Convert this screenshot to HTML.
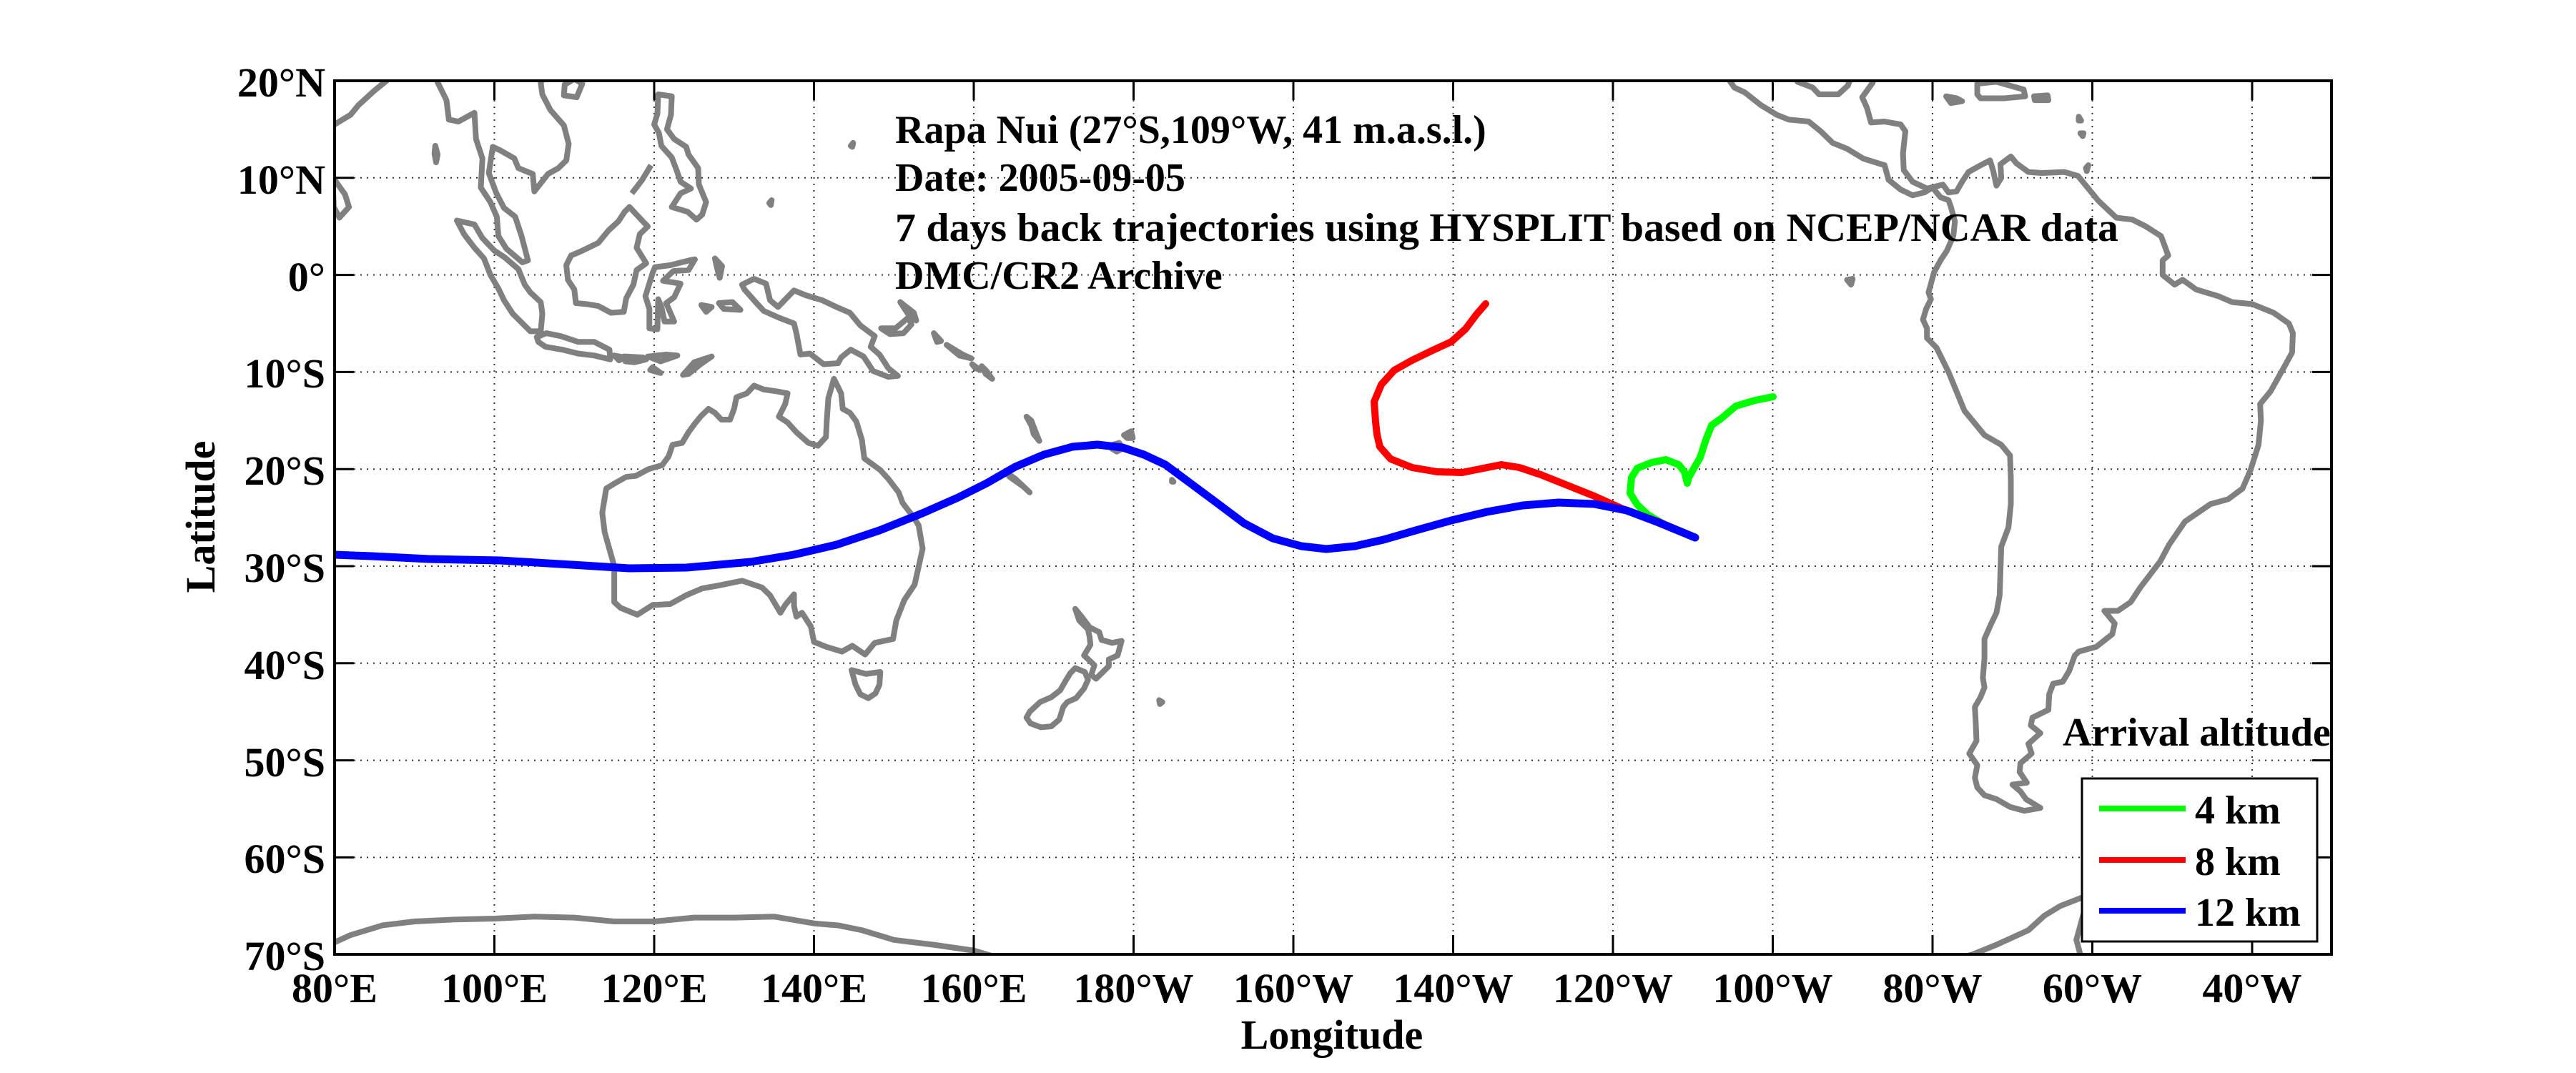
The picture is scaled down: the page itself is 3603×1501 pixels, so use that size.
<!DOCTYPE html>
<html><head><meta charset="utf-8"><style>
html,body{margin:0;padding:0;background:#fff;}
svg{display:block;}
text{font-family:"Liberation Serif",serif;font-weight:bold;fill:#000;}
</style></head><body>
<svg width="3603" height="1501" viewBox="0 0 3603 1501" xmlns="http://www.w3.org/2000/svg">
<defs><clipPath id="ax"><rect x="468" y="113" width="2793" height="1222"/></clipPath></defs>
<rect width="3603" height="1501" fill="#fff"/>
<!-- grid -->
<g stroke="#000" stroke-width="2" stroke-dasharray="2,7" opacity="0.8">
<line x1="691.5" y1="113" x2="691.5" y2="1335"/><line x1="915" y1="113" x2="915" y2="1335"/>
<line x1="1138.5" y1="113" x2="1138.5" y2="1335"/><line x1="1362" y1="113" x2="1362" y2="1335"/>
<line x1="1585.5" y1="113" x2="1585.5" y2="1335"/><line x1="1809" y1="113" x2="1809" y2="1335"/>
<line x1="2032.5" y1="113" x2="2032.5" y2="1335"/><line x1="2256" y1="113" x2="2256" y2="1335"/>
<line x1="2479.5" y1="113" x2="2479.5" y2="1335"/><line x1="2703" y1="113" x2="2703" y2="1335"/>
<line x1="2926.5" y1="113" x2="2926.5" y2="1335"/><line x1="3150" y1="113" x2="3150" y2="1335"/>
<line x1="468" y1="248.8" x2="3261" y2="248.8"/><line x1="468" y1="384.6" x2="3261" y2="384.6"/>
<line x1="468" y1="520.4" x2="3261" y2="520.4"/><line x1="468" y1="656.2" x2="3261" y2="656.2"/>
<line x1="468" y1="792" x2="3261" y2="792"/><line x1="468" y1="927.8" x2="3261" y2="927.8"/>
<line x1="468" y1="1063.6" x2="3261" y2="1063.6"/><line x1="468" y1="1199.4" x2="3261" y2="1199.4"/>
</g>
<!-- coastlines in lon/lat -->
<g clip-path="url(#ax)">
<g transform="matrix(11.175 0 0 -13.58 -426 384.6)" fill="none" stroke="#808080" stroke-width="8" vector-effect="non-scaling-stroke" stroke-linejoin="round">
<g vector-effect="non-scaling-stroke">
<polyline vector-effect="non-scaling-stroke" points="87,21 86.5,20 85,19 83,17.5 82,16.5 80,15.5 79.5,15"/>
<polygon vector-effect="non-scaling-stroke" points="80,9.8 81.3,8.3 81.8,7 80.6,5.9 79.9,7 79.8,9"/>
<polyline vector-effect="non-scaling-stroke" points="92.3,21 92.8,20 94,18 94.3,16 95.5,15.8 97.5,16.7 97.7,14 98.5,12 98.3,9 99.5,7.5 100.3,6 100.5,4 101.5,2.7 103.5,1.3 104.2,1.5 103.4,4 102.6,6 101.2,6.9 100.2,8.5 99.3,10.5 99.8,13.2 100.8,12.8 102.5,12 103,11 104.8,10.4 105,8.6 106.7,10.4 108,11 109,11.8 109.3,13.5 108.7,15.4 107,17 106,18.6 105.8,19.8 106.6,21"/>
<polygon vector-effect="non-scaling-stroke" points="108.7,18.5 110.3,18.3 111,19.7 110,20.2 108.8,19.6"/>
<polygon vector-effect="non-scaling-stroke" points="120.5,18.6 122.2,18.4 122.1,16.5 121.6,15 122.5,14 124,13.2 124.3,12.4 125.5,11 125.6,9.3 126.5,7.5 126,6.2 125.3,5.7 124.2,6.5 122.2,7 123.3,8.4 124.6,8.9 123.3,9.6 122.8,10.8 122.2,12.1 120.9,13.3 120.6,14.6 120,15.5 120.4,16.6"/>
<polyline vector-effect="non-scaling-stroke" points="117.2,8.4 118.5,9.8 119.6,11.3"/>
<polygon vector-effect="non-scaling-stroke" points="116.9,7 118.6,5.5 119.2,5 118.2,4.2 117.8,2.8 119,1.2 117.8,0.5 117.4,-1 116.5,-2.4 116.2,-3.8 114.6,-3.9 113,-3.2 111.5,-3 110.2,-2.9 110,-1.5 109.2,-0.5 109,1 109.6,2 111,2.5 113,3.3 114.3,4.6 115.5,5.5 116.3,6.5"/>
<polygon vector-effect="non-scaling-stroke" points="95.3,5.6 97.5,5.2 98.5,3.8 100,2.5 101.3,1.8 103,0.6 103.8,-1 104.5,-1.8 105.8,-2.8 106,-4 105.8,-5.8 104.5,-5.8 102.3,-4 101.2,-2.6 100.5,-1.4 99.5,0 98.7,1.7 97.5,2.8 96.2,4.2"/>
<polygon vector-effect="non-scaling-stroke" points="105.3,-6.4 106.5,-6 108.3,-6.3 110.5,-6.9 112.5,-6.9 114.4,-7.7 114.5,-8.7 112.5,-8.3 110.5,-8.1 108.5,-7.7 106.4,-7.4 105.5,-6.9"/>
<polygon vector-effect="non-scaling-stroke" points="115,-8.3 116.3,-8.5 115.6,-8.8"/>
<polygon vector-effect="non-scaling-stroke" points="116.2,-8.4 118.6,-8.5 119,-8.7 117.5,-9 116.4,-8.9"/>
<polygon vector-effect="non-scaling-stroke" points="119.2,-8.4 121.5,-8.2 122.9,-8.3 120.8,-8.9"/>
<polygon vector-effect="non-scaling-stroke" points="119.8,-9.5 120.8,-10.1 119.5,-9.8"/>
<polygon vector-effect="non-scaling-stroke" points="123.6,-10.3 125,-9 127.2,-8.4 125.8,-9.2 124.3,-10.2"/>
<polygon vector-effect="non-scaling-stroke" points="120.1,0.8 122,1 124.4,1.5 125.1,1.6 124.3,0.5 122.4,0.4 121.1,-0.6 123.3,-0.9 122.5,-2.3 121.5,-2.9 122.5,-4.8 121.3,-4.8 120.9,-3.3 120.5,-2.5 120.4,-5.6 119.4,-5.5 119.4,-3.5 118.9,-2.2 119.5,-0.6 119.8,0.2"/>
<polygon vector-effect="non-scaling-stroke" points="127.6,1.7 128.5,0.9 128.2,-0.3 127.9,0.6"/>
<polygon vector-effect="non-scaling-stroke" points="128.1,-2.9 129.8,-2.8 130.8,-3.6 128.7,-3.5"/>
<polygon vector-effect="non-scaling-stroke" points="125.9,-3.1 127.2,-3.3 126.5,-3.8"/>
<polygon vector-effect="non-scaling-stroke" points="131,-1 132.5,-0.4 134,-0.9 134.5,-2.6 135.5,-3.3 137.5,-1.6 139,-2.1 141,-2.6 142.8,-3.3 144.5,-3.9 145.8,-5.2 147.6,-6.3 147.1,-7.4 148.2,-8.2 149.3,-9.6 150.5,-10.4 149.3,-10.5 147.4,-9.9 146.2,-8.4 144.6,-7.7 143.4,-8.5 143,-9.1 141.2,-9.2 139.5,-8.1 138.3,-8.2 137.8,-6 137.5,-5 135.6,-4.4 133.7,-3.7 132.7,-2.8 131.3,-1.5"/>
<polygon vector-effect="non-scaling-stroke" points="148.4,-5.5 150.2,-5.5 151.8,-4.4 152.2,-5.1 151.2,-6 149.5,-6.1"/>
<polygon vector-effect="non-scaling-stroke" points="150.8,-2.8 152.5,-3.9 152.8,-4.7 152,-4.3"/>
<polygon vector-effect="non-scaling-stroke" points="155,-6 155.9,-6.8 155.4,-6.9"/>
<polygon vector-effect="non-scaling-stroke" points="156.6,-7.2 158.2,-8.3 159.7,-8.6 158.6,-8.2"/>
<polygon vector-effect="non-scaling-stroke" points="159.8,-9.2 160.8,-9.8 160.2,-9.6"/>
<polygon vector-effect="non-scaling-stroke" points="161,-9.4 161.5,-10.2 162.3,-10.7 161.6,-9.9"/>
<polygon vector-effect="non-scaling-stroke" points="144.6,13.3 144.9,13.6 144.8,13.2"/>
<polygon vector-effect="non-scaling-stroke" points="134.4,7.4 134.7,7.7 134.6,7.2"/>
<polygon vector-effect="non-scaling-stroke" points="92.6,13.3 92.9,12.4 92.7,11.6 92.5,12.5"/>
<!-- Australia -->
<polygon vector-effect="non-scaling-stroke" points="114,-22 113.5,-24.5 113.8,-26.5 115,-30 115,-33.7 115.8,-34.3 117.9,-35 119.8,-34 122,-33.9 124,-33 126,-32.3 128,-32 131,-31.5 133.5,-32.2 134.5,-33 135.8,-34.8 136.4,-34 137.5,-32.9 137.5,-34.1 137.8,-35.2 138.5,-34.8 139.6,-36.2 140,-37.8 141.5,-38.3 143.5,-38.8 144.8,-38.2 145.5,-38.6 146.4,-39.1 147.6,-37.9 149.9,-37.5 150.3,-35.6 151.3,-33.5 152.6,-31.9 153.6,-28.2 153.1,-25.8 152.5,-25 151.1,-23.5 150.6,-22.4 149.3,-21 148.3,-20.1 146.3,-18.9 146,-17 145.3,-15.1 144.5,-14.2 143.6,-13.8 143.4,-12.2 142.5,-10.7 141.8,-12.7 141.6,-15 141.5,-16.7 140.5,-17.6 139.3,-17.3 137.8,-16.2 136.7,-15.2 135.6,-14.6 136.4,-13.3 136.7,-12.2 135.4,-12 133.7,-11.8 132.5,-11.4 131.6,-12.2 130.3,-12.6 130,-13.8 129.5,-14.9 128.4,-14.9 127.6,-14.2 126.8,-13.8 125.9,-14.5 125.1,-15.3 124.3,-16.2 123.5,-17.3 122.3,-17.5 121.8,-18.7 121,-19.6 119.3,-20 117.7,-20.7 116.5,-20.8 115,-21.5"/>
<polygon vector-effect="non-scaling-stroke" points="144.7,-40.7 146.5,-41.1 148.3,-40.9 148.2,-42.2 147.7,-43.1 146.8,-43.6 145.8,-43.2 145.2,-42.2"/>
<polygon vector-effect="non-scaling-stroke" points="172.7,-34.4 173.5,-35.2 174.5,-36.3 175.7,-36.8 176,-37.6 177.3,-37.9 178.5,-37.7 178,-39.2 176.9,-39.6 176.9,-40.3 175.3,-41.6 174.7,-41.2 175.1,-40.2 174.2,-39.5 173.8,-39.2 174.6,-38.1 174.5,-37.3 174.3,-36.5 173.2,-35.6"/>
<polygon vector-effect="non-scaling-stroke" points="172.7,-40.5 173.9,-40.9 174.3,-41.7 173.8,-42.6 172.8,-43.6 171.7,-44 171.2,-44.5 170.7,-45.8 169.7,-46.5 168.4,-46.6 167.1,-46.2 166.6,-45.6 167,-45 168.3,-44 169.7,-43.5 170.8,-42.8 171.5,-41.8 172.1,-41"/>
<polygon vector-effect="non-scaling-stroke" points="164,-20.3 165.2,-21 166.5,-22 167,-22.4 166.2,-21.8 164.5,-20.8"/>
<polygon vector-effect="non-scaling-stroke" points="166.6,-14.6 167.2,-15.5 167.5,-16.4 168.2,-17.1 167.8,-16.3 167.2,-15"/>
<polygon vector-effect="non-scaling-stroke" points="177.4,-17.5 178.2,-17.3 178.6,-17.9 177.9,-18.2 177.3,-17.9"/>
<polygon vector-effect="non-scaling-stroke" points="178.8,-16.5 179.7,-16.1 179.9,-16.8 179.2,-16.8"/>
<polygon vector-effect="non-scaling-stroke" points="183.2,-43.8 183.6,-44 183.3,-44.2"/>
<polygon vector-effect="non-scaling-stroke" points="184.8,-21.1 185,-21.3 184.8,-21.3"/>
<!-- Antarctica -->
<polyline vector-effect="non-scaling-stroke" points="78,-69.5 82,-68 86,-67 90,-66.6 95,-66.4 100,-66.3 105,-66.1 110,-66.2 115,-66.6 120,-66.6 125,-66.2 130,-66.2 135,-66.1 140,-66.8 143,-67 146,-67.5 150,-68.5 155,-69 160,-69.6 165,-70.8"/>
<polyline vector-effect="non-scaling-stroke" points="280,-71 285,-70 288,-69 292,-67.5 294,-66 296,-65 298.5,-64.2 301,-63.4 303,-63.3 300,-64.2 299,-65.5 298.5,-67 298,-68.5 298.5,-70"/>
<polygon vector-effect="non-scaling-stroke" points="299,-62.2 301.5,-62.5 300.5,-62.8"/>
<polygon vector-effect="non-scaling-stroke" points="304,-60.5 306,-60.8 305,-61"/>
<!-- Americas -->
<polyline vector-effect="non-scaling-stroke" points="254,21 254.6,20 255.2,19.3 256.5,18.8 258.5,17.5 260.5,16.5 262,16 264.5,15.8 266,14.8 267.5,13.6 269.3,13 271.3,12 274,11.3 274.5,9.8 276,8.8 277.5,8.2 279,8.5 280,9 281,8 282,7.7 282.3,7 282.8,5.5 282.6,4 281.8,2.5 281,1.5 280.2,0.3 279.5,-1.8 279.8,-2.5 279.2,-3.5 278.8,-4.6 279.3,-5.5 279.3,-6.5 280.5,-7.5 282,-10 283,-12 284,-14 286.5,-16.5 288.6,-17.5 289.7,-18.6 289.8,-21 289.8,-23.6 289.5,-26 288.6,-28 288.5,-30.5 288.4,-33 288,-34.8 287.3,-36 286.5,-37.5 286.5,-39.5 286.3,-41.5 286.5,-42.5 286,-43.5 285.3,-44.5 285.4,-46 285.5,-48 284.6,-49.3 285.6,-50.5 285.3,-51.8 285.6,-52.8 286.5,-53.6 288,-54 289.7,-54.8 291.5,-55.2 293.5,-54.9 291.7,-54 291,-53.2 290,-52.5 291.8,-52.3 290.9,-51.2 291,-50.3 292.4,-49.3 292,-48.3 293.5,-47.2 292.3,-46.4 292.5,-45.6 294.5,-44.8 294.6,-43.2 295.1,-42.1 296.3,-41.9 297.1,-40.8 297.8,-39.2 298.3,-38.8 300.5,-38.3 302.5,-37 302.8,-35.9 301.5,-34.6 303.2,-34.6 304.8,-33.7 306,-32.2 308.5,-29.5 309.6,-27.8 311.6,-25.4 314.8,-23.6 317,-23.1 318.8,-22 319.8,-20.1 320.8,-17.5 321.1,-15 321,-13.3 322.3,-12 324,-9.5 325,-8 325.1,-6 324.6,-5 322.7,-3.9 320,-3 317.5,-2.8 315.8,-2.2 313,-1.5 311.3,-0.5 310.3,-1 308.8,0 308.8,1.5 309.5,2 308.6,4 306.7,5 305,5.7 303,5.9 300.8,7.6 299.6,8.8 298.2,10.2 296.5,10.6 293.7,10.5 292,10.6 290.5,11.5 289.8,12.2 288.5,11.4 288.6,10 288,9.2 287.6,10.7 287.2,11.8 285.8,11.2 284.5,10.6 283.7,9.6 283,8.6 282,8.5 281.3,9.3 279.3,8.9 277.5,9.6 276.4,10.8 276.3,12.5 276.6,14.8 276,15.5 274,15.8 272.3,15.7 271.8,17.2 271.2,18.3 272.5,19.8 272.9,21.3"/>
<polyline vector-effect="non-scaling-stroke" points="262.8,21 263.1,19.9 265,19.3 265.8,18.6 268.2,18.6 269.4,19.5 270,20.8 269.6,21.3"/>
<polygon vector-effect="non-scaling-stroke" points="281.7,18.4 283,18.2 283.7,17.9 282.3,17.7"/>
<polygon vector-effect="non-scaling-stroke" points="285.6,19.7 288,19.9 291.4,19.1 291.6,18.4 289,18.2 286,18.2 285.6,18.6"/>
<polygon vector-effect="non-scaling-stroke" points="292.7,18.4 294.4,18.5 294.5,18 292.8,18"/>
<polygon vector-effect="non-scaling-stroke" points="298.3,16.3 298.6,15.9 298.3,15.9"/>
<polygon vector-effect="non-scaling-stroke" points="298.5,14.6 298.9,14.6 298.8,14.3"/>
<polygon vector-effect="non-scaling-stroke" points="299.3,10.7 299.5,11.3 299.2,11"/>
<polygon vector-effect="non-scaling-stroke" points="269.3,-0.5 270,-0.4 269.8,-1"/>
</g>
</g>
<!-- trajectories -->
<polyline fill="none" stroke="#00ff00" stroke-width="10" stroke-linejoin="round" stroke-linecap="round" points="2480,555 2455,560 2428,568 2408,585 2394,595 2386,615 2378,640 2371,652 2362,668 2360,676 2356,660 2348,650 2330,643 2310,647 2290,655 2282,668 2280,690 2290,706 2305,720 2330,735 2371,752"/>
<polyline fill="none" stroke="#ff0000" stroke-width="10" stroke-linejoin="round" stroke-linecap="round" points="2078,425 2065,440 2050,460 2030,478 2004,490 1975,504 1950,518 1932,538 1922,562 1924,590 1926,608 1930,625 1945,642 1975,654 2010,660 2045,661 2075,655 2100,650 2125,654 2155,664 2185,676 2230,694 2270,712 2320,730 2371,752"/>
<polyline fill="none" stroke="#0000ff" stroke-width="11" stroke-linejoin="round" stroke-linecap="round" points="468,776 520,778 600,782 700,784 800,790 880,795 960,794 1050,786 1110,776 1170,762 1230,742 1290,718 1340,696 1380,676 1420,653 1460,636 1500,625 1535,622 1570,626 1600,636 1630,650 1665,676 1700,702 1740,732 1780,753 1820,764 1855,768 1895,764 1935,755 1980,742 2030,728 2080,716 2130,707 2180,703 2230,705 2275,714 2320,731 2371,752"/>
</g>
<!-- axes box -->
<rect x="468" y="113" width="2793" height="1222" fill="none" stroke="#000" stroke-width="4"/>
<g stroke="#000" stroke-width="3">
<path d="M691.5 113v27M915 113v27M1138.5 113v27M1362 113v27M1585.5 113v27M1809 113v27M2032.5 113v27M2256 113v27M2479.5 113v27M2703 113v27M2926.5 113v27M3150 113v27"/>
<path d="M691.5 1335v-27M915 1335v-27M1138.5 1335v-27M1362 1335v-27M1585.5 1335v-27M1809 1335v-27M2032.5 1335v-27M2256 1335v-27M2479.5 1335v-27M2703 1335v-27M2926.5 1335v-27M3150 1335v-27"/>
<path d="M468 248.8h27M468 384.6h27M468 520.4h27M468 656.2h27M468 792h27M468 927.8h27M468 1063.6h27M468 1199.4h27"/>
<path d="M3261 248.8h-27M3261 384.6h-27M3261 520.4h-27M3261 656.2h-27M3261 792h-27M3261 927.8h-27M3261 1063.6h-27M3261 1199.4h-27"/>
</g>
<!-- y labels -->
<g font-size="58" text-anchor="end">
<text x="455" y="135">20°N</text><text x="455" y="271">10°N</text><text x="455" y="407">0°</text>
<text x="455" y="542">10°S</text><text x="455" y="678">20°S</text><text x="455" y="814">30°S</text>
<text x="455" y="950">40°S</text><text x="455" y="1086">50°S</text><text x="455" y="1221">60°S</text>
<text x="455" y="1357">70°S</text>
</g>
<g font-size="58" text-anchor="middle">
<text x="468" y="1402">80°E</text><text x="691.5" y="1402">100°E</text><text x="915" y="1402">120°E</text>
<text x="1138.5" y="1402">140°E</text><text x="1362" y="1402">160°E</text><text x="1585.5" y="1402">180°W</text>
<text x="1809" y="1402">160°W</text><text x="2032.5" y="1402">140°W</text><text x="2256" y="1402">120°W</text>
<text x="2479.5" y="1402">100°W</text><text x="2703" y="1402">80°W</text><text x="2926.5" y="1402">60°W</text>
<text x="3150" y="1402">40°W</text>
</g>
<text x="1863" y="1467" font-size="58" text-anchor="middle">Longitude</text>
<text transform="translate(300,723) rotate(-90)" font-size="58" text-anchor="middle">Latitude</text>
<!-- title -->
<g font-size="56">
<text x="1252" y="200">Rapa Nui (27°S,109°W, 41 m.a.s.l.)</text>
<text x="1252" y="267">Date: 2005-09-05</text>
<text x="1252" y="337" textLength="1711" lengthAdjust="spacingAndGlyphs">7 days back trajectories using HYSPLIT based on NCEP/NCAR data</text>
<text x="1252" y="404">DMC/CR2 Archive</text>
</g>
<text x="2885" y="1043" font-size="56">Arrival altitude</text>
<!-- legend -->
<rect x="2912" y="1089" width="329" height="228" fill="#fff" stroke="#000" stroke-width="3"/>
<line x1="2936" y1="1131" x2="3057" y2="1131" stroke="#00ff00" stroke-width="8"/>
<line x1="2936" y1="1203" x2="3057" y2="1203" stroke="#ff0000" stroke-width="8"/>
<line x1="2936" y1="1274" x2="3057" y2="1274" stroke="#0000ff" stroke-width="8"/>
<g font-size="56">
<text x="3070" y="1152">4 km</text><text x="3070" y="1224">8 km</text><text x="3070" y="1295">12 km</text>
</g>
</svg>
</body></html>
